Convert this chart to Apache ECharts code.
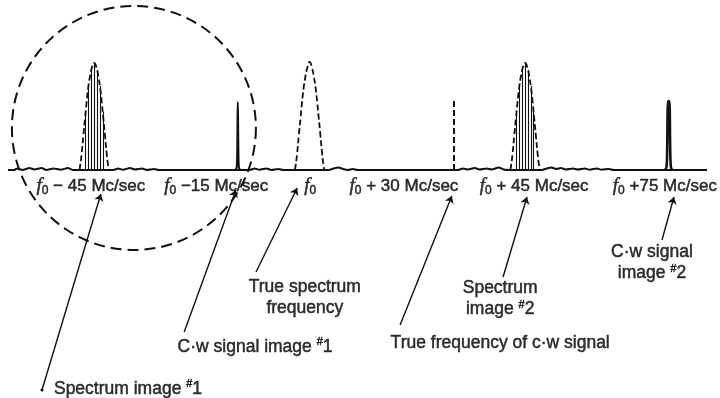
<!DOCTYPE html>
<html><head><meta charset="utf-8">
<script src="https://cdn.jsdelivr.net/npm/echarts@6/dist/echarts.min.js"></script>
<style>html,body{margin:0;padding:0;background:#fff}#c{width:720px;height:398px}</style>
</head><body><div id="c"></div>
<script>
// x: frequency offset from f0 (Mc/sec); y: relative amplitude
const tickValues = [-45, -15, 0, 30, 45, 75];
const tickTexts = [' − 45 Mc/sec', ' −15 Mc/sec', '', ' + 30 Mc/sec', ' + 45 Mc/sec', ' +75 Mc/sec'];

const baselineNoise = [[-63,0],[-61.8,0],[-61,1.5],[-60,0],[-58.5,2],[-57.5,0.5],[-56,2],[-55,0],[-53.5,1.5],[-52,0.3],[-50.5,2],[-49.5,0],
  [-41,0],[-40,1.5],[-39,0.3],[-37.5,2],[-36.5,0.5],[-35,1.5],[-34,0],[-32.5,1],[-31.5,0],
  [-12.5,0],[-11.5,1.5],[-10.5,0.3],[-9,1.5],[-8,0],[-6.5,1],[-5.5,0],
  [4,0],[5,1.5],[6,2.5],[7,1],[8,0],[9,1],[10,0],
  [31,0],[32,1.5],[33,0.5],[34.5,2],[35.5,0.5],[37,1.5],[38,0.5],[39.5,2.5],[40.5,0.5],[41.5,0],
  [48.5,0],[49.5,1.5],[50.5,2.5],[51.5,1],[52.5,2],[53.5,0.5],[55,1.5],[56,0.5],[57.5,1.5],[58.5,0.3],[60,1.5],[61,0.3],[62.5,1],[63.5,0],[83,0]];

const spectrumImage1 = [[-48.1,0],[-47.9,5],[-47.6,17],[-47.25,35],[-46.9,52],[-46.6,67],[-46.25,82],[-45.9,93],[-45.5,102],[-45,107],
  [-44.5,102],[-44.1,93],[-43.75,82],[-43.4,67],[-43.1,52],[-42.75,35],[-42.4,17],[-42.1,5],[-41.9,0]];
const spectrumTrue = [[-3.1,0],[-2.9,5],[-2.6,17],[-2.25,35],[-1.9,52],[-1.6,67],[-1.25,82],[-0.9,93],[-0.5,102],[0,108],
  [0.5,102],[0.9,93],[1.25,82],[1.6,67],[1.9,52],[2.25,35],[2.6,17],[2.9,5],[3.1,0]];
const spectrumImage2 = [[41.9,0],[42.1,5],[42.4,17],[42.75,35],[43.1,52],[43.4,67],[43.75,82],[44.1,93],[44.5,102],[45,107],
  [45.5,102],[45.9,93],[46.25,82],[46.6,67],[46.9,52],[47.25,35],[47.6,17],[47.9,5],[48.1,0]];

const combImage1 = [[-46.8,58],[-46.2,84],[-45.6,100],[-45,107],[-44.4,100],[-43.8,84],[-43.2,58]];
const combImage2 = [[43.2,58],[43.8,84],[44.4,100],[45,107],[45.6,100],[46.2,84],[46.8,58]];

const cwImage1 = [[-15.6,0],[-15.25,2],[-15.12,20],[-15.05,55],[-15,68],[-14.95,55],[-14.88,20],[-14.75,2],[-14.4,0]];
const cwImage2 = [[74.2,0],[74.55,3],[74.7,25],[74.78,60],[74.9,68],[75,69],[75.1,68],[75.22,60],[75.3,25],[75.45,3],[75.8,0]];
const cwTrue = [30, 70];

const annotationTexts = ['Spectrum image {h|#}1', 'C·w signal image {h|#}1', 'True spectrum\nfrequency',
  'True frequency of c·w signal', 'Spectrum\nimage {h|#}2', 'C·w signal\nimage {h|#}2'];

// ---- layout (data-space anchors for labels and arrows) ----
const tickLabelAt = [[-45.7,-16],[-19.5,-16],[0.1,-16],[19.7,-16],[46.9,-16],[74.2,-16]];
const arrowTail = [[-55.9,-220],[-26.2,-162],[-11.2,-102],[18.9,-155],[40.4,-107],[73.6,-70]];
const arrowTip  = [[-43.6,-24],[-15.4,-20],[-2.6,-18],[29.7,-26],[45.4,-27],[76.1,-27]];
const annotAt   = [[-53.4,-219],[-11.4,-177],[-1,-128],[39.8,-173],[39.8,-129],[71.5,-93]];
const annotAlign = ['left','center','center','center','center','center'];
const circleCenter = [-36.7, 42];
const circleRadiusPx = 122;

const FONT = 'Liberation Sans';
const chart = echarts.init(document.getElementById('c'));
const thick = {textBorderColor: '#000', textBorderWidth: 0.5};
const tickRich = {
  f: Object.assign({fontFamily: 'Liberation Serif', fontStyle: 'italic', fontSize: 19, lineHeight: 22, color: '#000'}, thick),
  s: Object.assign({fontFamily: FONT, fontSize: 12, lineHeight: 10, verticalAlign: 'bottom', color: '#000'}, thick),
  t: Object.assign({fontFamily: FONT, fontSize: 17, lineHeight: 22, color: '#000'}, thick)
};
const annRich = {
  h: Object.assign({fontFamily: FONT, fontSize: 11, lineHeight: 20, verticalAlign: 'top', color: '#000'}, thick)
};
const black = '#111';
const envStyle = {color: black, width: 1.8, type: [6, 3]};

chart.setOption({
  animation: false,
  grid: {left: 8, right: 13, top: 0, bottom: 0},
  xAxis: {type: 'value', min: -63, max: 83, show: false},
  yAxis: {type: 'value', min: -228, max: 170, show: false},
  series: [
    {type: 'line', data: baselineNoise, smooth: 0.2, symbol: 'none', lineStyle: {color: black, width: 2}},
    {type: 'line', data: spectrumImage1, smooth: 0.5, symbol: 'none', lineStyle: envStyle},
    {type: 'line', data: spectrumTrue, smooth: 0.5, symbol: 'none', lineStyle: envStyle},
    {type: 'line', data: spectrumImage2, smooth: 0.5, symbol: 'none', lineStyle: envStyle},
    {type: 'lines', coordinateSystem: 'cartesian2d', lineStyle: {color: black, width: 1.1, opacity: 1},
      data: combImage1.concat(combImage2).map(p => ({coords: [[p[0], 0], [p[0], p[1]]]}))},
    {type: 'line', data: cwImage1, smooth: 0.3, symbol: 'none', lineStyle: {color: black, width: 2}},
    {type: 'line', data: cwImage2, smooth: 0.3, symbol: 'none', lineStyle: {color: black, width: 2.6}},
    {type: 'lines', coordinateSystem: 'cartesian2d', lineStyle: {color: black, width: 2, type: [6, 3], opacity: 1},
      data: [{coords: [[cwTrue[0], 0], [cwTrue[0], cwTrue[1]]]}]},
    {type: 'lines', coordinateSystem: 'cartesian2d', symbol: ['none', 'arrow'], symbolSize: [3, 7],
      lineStyle: {color: black, width: 1.4, opacity: 1},
      data: arrowTail.map((t, i) => ({coords: [t, arrowTip[i]], symbol: i === 0 ? ['circle', 'arrow'] : ['none', 'arrow']}))},
    {type: 'scatter', symbolSize: 0, clip: false, silent: true,
      data: tickValues.map((v, i) => ({value: tickLabelAt[i],
        label: {show: true, position: 'inside', formatter: '{f|f}{s|0}' + (tickTexts[i] ? '{t|' + tickTexts[i] + '}' : ''), rich: tickRich}}))},
    {type: 'scatter', symbolSize: 0, clip: false, silent: true,
      data: annotationTexts.map((t, i) => ({value: annotAt[i],
        label: Object.assign({show: true, position: 'inside', formatter: t, align: annotAlign[i],
          fontFamily: FONT, fontSize: 17.5, lineHeight: 21, color: '#000', rich: annRich}, thick)}))}
  ]
});

const c = chart.convertToPixel({gridIndex: 0}, circleCenter);
chart.setOption({graphic: [{type: 'circle', shape: {cx: c[0], cy: c[1], r: circleRadiusPx}, silent: true,
  style: {fill: 'none', stroke: black, lineWidth: 2, lineDash: [11, 6]}}]});
</script></body></html>
